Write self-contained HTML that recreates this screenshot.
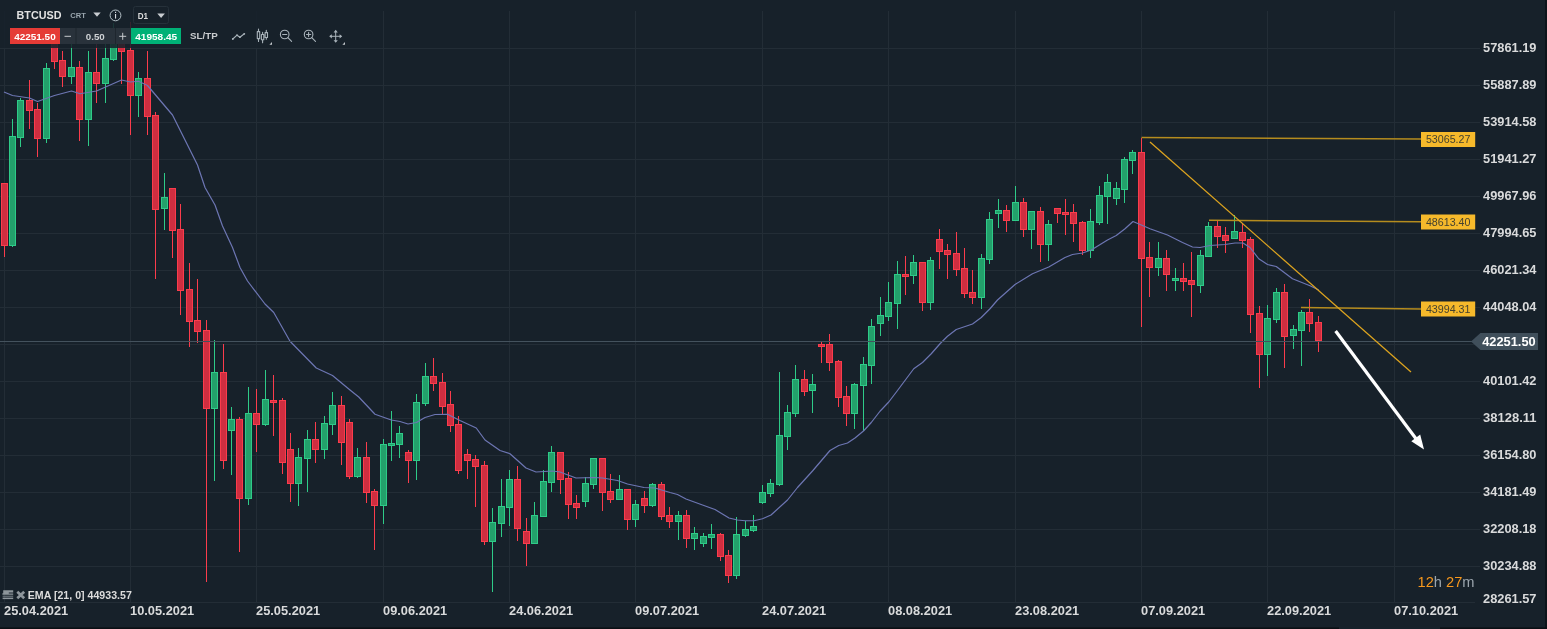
<!DOCTYPE html><html><head><meta charset="utf-8"><title>BTCUSD</title>
<style>html,body{margin:0;padding:0;background:#17212a;overflow:hidden}svg{display:block}text{font-family:"Liberation Sans",Arial,sans-serif}</style></head><body>
<svg width="1547" height="629" viewBox="0 0 1547 629">
<rect width="1547" height="629" fill="#17212a"/>
<g stroke="#232d36" stroke-width="1" shape-rendering="crispEdges">
<line x1="0" y1="48.5" x2="1480" y2="48.5"/>
<line x1="0" y1="85.5" x2="1480" y2="85.5"/>
<line x1="0" y1="122.5" x2="1480" y2="122.5"/>
<line x1="0" y1="159.5" x2="1480" y2="159.5"/>
<line x1="0" y1="196.5" x2="1480" y2="196.5"/>
<line x1="0" y1="233.5" x2="1480" y2="233.5"/>
<line x1="0" y1="270.5" x2="1480" y2="270.5"/>
<line x1="0" y1="307.5" x2="1480" y2="307.5"/>
<line x1="0" y1="344.5" x2="1480" y2="344.5"/>
<line x1="0" y1="381.5" x2="1480" y2="381.5"/>
<line x1="0" y1="418.5" x2="1480" y2="418.5"/>
<line x1="0" y1="455.5" x2="1480" y2="455.5"/>
<line x1="0" y1="492.5" x2="1480" y2="492.5"/>
<line x1="0" y1="529.5" x2="1480" y2="529.5"/>
<line x1="0" y1="566.5" x2="1480" y2="566.5"/>
<line x1="4.5" y1="11" x2="4.5" y2="603"/>
<line x1="130.5" y1="11" x2="130.5" y2="603"/>
<line x1="256.5" y1="11" x2="256.5" y2="603"/>
<line x1="383.5" y1="11" x2="383.5" y2="603"/>
<line x1="509.5" y1="11" x2="509.5" y2="603"/>
<line x1="635.5" y1="11" x2="635.5" y2="603"/>
<line x1="762.5" y1="11" x2="762.5" y2="603"/>
<line x1="888.5" y1="11" x2="888.5" y2="603"/>
<line x1="1015.5" y1="11" x2="1015.5" y2="603"/>
<line x1="1141.5" y1="11" x2="1141.5" y2="603"/>
<line x1="1267.5" y1="11" x2="1267.5" y2="603"/>
<line x1="1394.5" y1="11" x2="1394.5" y2="603"/>
<line x1="0" y1="602.5" x2="1475" y2="602.5"/>
</g>
<g shape-rendering="crispEdges">
<rect x="4.0" y="183.0" width="1" height="74.0" fill="#fb3c4c"/>
<rect x="1.0" y="183.0" width="7" height="63.0" fill="#fb3c4c"/>
<rect x="2.0" y="184.0" width="5" height="61.0" fill="#cf2e40"/>
<rect x="12.0" y="119.0" width="1" height="128.0" fill="#2ecb88"/>
<rect x="9.0" y="136.0" width="7" height="110.0" fill="#2ecb88"/>
<rect x="10.0" y="137.0" width="5" height="108.0" fill="#23a06b"/>
<rect x="20.0" y="98.0" width="1" height="49.0" fill="#2ecb88"/>
<rect x="17.0" y="100.0" width="7" height="38.0" fill="#2ecb88"/>
<rect x="18.0" y="101.0" width="5" height="36.0" fill="#23a06b"/>
<rect x="29.0" y="80.0" width="1" height="49.0" fill="#fb3c4c"/>
<rect x="26.0" y="100.0" width="7" height="11.0" fill="#fb3c4c"/>
<rect x="27.0" y="101.0" width="5" height="9.0" fill="#cf2e40"/>
<rect x="37.0" y="103.0" width="1" height="54.0" fill="#fb3c4c"/>
<rect x="34.0" y="109.0" width="7" height="30.0" fill="#fb3c4c"/>
<rect x="35.0" y="110.0" width="5" height="28.0" fill="#cf2e40"/>
<rect x="46.0" y="63.0" width="1" height="80.0" fill="#2ecb88"/>
<rect x="43.0" y="68.0" width="7" height="71.0" fill="#2ecb88"/>
<rect x="44.0" y="69.0" width="5" height="69.0" fill="#23a06b"/>
<rect x="54.0" y="30.0" width="1" height="39.0" fill="#fb3c4c"/>
<rect x="51.0" y="36.0" width="7" height="26.0" fill="#fb3c4c"/>
<rect x="52.0" y="37.0" width="5" height="24.0" fill="#cf2e40"/>
<rect x="62.0" y="51.0" width="1" height="36.0" fill="#fb3c4c"/>
<rect x="59.0" y="60.0" width="7" height="17.0" fill="#fb3c4c"/>
<rect x="60.0" y="61.0" width="5" height="15.0" fill="#cf2e40"/>
<rect x="71.0" y="40.0" width="1" height="44.0" fill="#2ecb88"/>
<rect x="68.0" y="67.0" width="7" height="10.0" fill="#2ecb88"/>
<rect x="69.0" y="68.0" width="5" height="8.0" fill="#23a06b"/>
<rect x="79.0" y="61.0" width="1" height="80.0" fill="#fb3c4c"/>
<rect x="76.0" y="67.0" width="7" height="53.0" fill="#fb3c4c"/>
<rect x="77.0" y="68.0" width="5" height="51.0" fill="#cf2e40"/>
<rect x="88.0" y="51.0" width="1" height="95.0" fill="#2ecb88"/>
<rect x="85.0" y="72.0" width="7" height="48.0" fill="#2ecb88"/>
<rect x="86.0" y="73.0" width="5" height="46.0" fill="#23a06b"/>
<rect x="96.0" y="40.0" width="1" height="63.0" fill="#fb3c4c"/>
<rect x="93.0" y="72.0" width="7" height="12.0" fill="#fb3c4c"/>
<rect x="94.0" y="73.0" width="5" height="10.0" fill="#cf2e40"/>
<rect x="105.0" y="40.0" width="1" height="63.0" fill="#2ecb88"/>
<rect x="102.0" y="58.0" width="7" height="26.0" fill="#2ecb88"/>
<rect x="103.0" y="59.0" width="5" height="24.0" fill="#23a06b"/>
<rect x="113.0" y="23.0" width="1" height="38.0" fill="#2ecb88"/>
<rect x="110.0" y="38.0" width="7" height="22.0" fill="#2ecb88"/>
<rect x="111.0" y="39.0" width="5" height="20.0" fill="#23a06b"/>
<rect x="121.0" y="30.0" width="1" height="54.0" fill="#fb3c4c"/>
<rect x="118.0" y="38.0" width="7" height="14.0" fill="#fb3c4c"/>
<rect x="119.0" y="39.0" width="5" height="12.0" fill="#cf2e40"/>
<rect x="130.0" y="22.0" width="1" height="113.0" fill="#fb3c4c"/>
<rect x="127.0" y="50.0" width="7" height="46.0" fill="#fb3c4c"/>
<rect x="128.0" y="51.0" width="5" height="44.0" fill="#cf2e40"/>
<rect x="138.0" y="72.0" width="1" height="45.0" fill="#2ecb88"/>
<rect x="135.0" y="78.0" width="7" height="18.0" fill="#2ecb88"/>
<rect x="136.0" y="79.0" width="5" height="16.0" fill="#23a06b"/>
<rect x="147.0" y="51.0" width="1" height="84.0" fill="#fb3c4c"/>
<rect x="144.0" y="78.0" width="7" height="39.0" fill="#fb3c4c"/>
<rect x="145.0" y="79.0" width="5" height="37.0" fill="#cf2e40"/>
<rect x="155.0" y="112.0" width="1" height="167.0" fill="#fb3c4c"/>
<rect x="152.0" y="115.0" width="7" height="95.0" fill="#fb3c4c"/>
<rect x="153.0" y="116.0" width="5" height="93.0" fill="#cf2e40"/>
<rect x="164.0" y="173.0" width="1" height="57.0" fill="#2ecb88"/>
<rect x="161.0" y="197.0" width="7" height="12.0" fill="#2ecb88"/>
<rect x="162.0" y="198.0" width="5" height="10.0" fill="#23a06b"/>
<rect x="172.0" y="188.0" width="1" height="70.0" fill="#fb3c4c"/>
<rect x="169.0" y="188.0" width="7" height="43.0" fill="#fb3c4c"/>
<rect x="170.0" y="189.0" width="5" height="41.0" fill="#cf2e40"/>
<rect x="180.0" y="204.0" width="1" height="111.0" fill="#fb3c4c"/>
<rect x="177.0" y="229.0" width="7" height="62.0" fill="#fb3c4c"/>
<rect x="178.0" y="230.0" width="5" height="60.0" fill="#cf2e40"/>
<rect x="189.0" y="263.0" width="1" height="84.0" fill="#fb3c4c"/>
<rect x="186.0" y="289.0" width="7" height="33.0" fill="#fb3c4c"/>
<rect x="187.0" y="290.0" width="5" height="31.0" fill="#cf2e40"/>
<rect x="197.0" y="279.0" width="1" height="64.0" fill="#fb3c4c"/>
<rect x="194.0" y="320.0" width="7" height="12.0" fill="#fb3c4c"/>
<rect x="195.0" y="321.0" width="5" height="10.0" fill="#cf2e40"/>
<rect x="206.0" y="320.0" width="1" height="262.0" fill="#fb3c4c"/>
<rect x="203.0" y="330.0" width="7" height="79.0" fill="#fb3c4c"/>
<rect x="204.0" y="331.0" width="5" height="77.0" fill="#cf2e40"/>
<rect x="214.0" y="340.0" width="1" height="141.0" fill="#2ecb88"/>
<rect x="211.0" y="372.0" width="7" height="37.0" fill="#2ecb88"/>
<rect x="212.0" y="373.0" width="5" height="35.0" fill="#23a06b"/>
<rect x="223.0" y="344.0" width="1" height="125.0" fill="#fb3c4c"/>
<rect x="220.0" y="372.0" width="7" height="89.0" fill="#fb3c4c"/>
<rect x="221.0" y="373.0" width="5" height="87.0" fill="#cf2e40"/>
<rect x="231.0" y="407.0" width="1" height="68.0" fill="#2ecb88"/>
<rect x="228.0" y="419.0" width="7" height="12.0" fill="#2ecb88"/>
<rect x="229.0" y="420.0" width="5" height="10.0" fill="#23a06b"/>
<rect x="239.0" y="417.0" width="1" height="135.0" fill="#fb3c4c"/>
<rect x="236.0" y="419.0" width="7" height="80.0" fill="#fb3c4c"/>
<rect x="237.0" y="420.0" width="5" height="78.0" fill="#cf2e40"/>
<rect x="248.0" y="387.0" width="1" height="118.0" fill="#2ecb88"/>
<rect x="245.0" y="413.0" width="7" height="86.0" fill="#2ecb88"/>
<rect x="246.0" y="414.0" width="5" height="84.0" fill="#23a06b"/>
<rect x="256.0" y="389.0" width="1" height="63.0" fill="#fb3c4c"/>
<rect x="253.0" y="413.0" width="7" height="12.0" fill="#fb3c4c"/>
<rect x="254.0" y="414.0" width="5" height="10.0" fill="#cf2e40"/>
<rect x="265.0" y="370.0" width="1" height="56.0" fill="#2ecb88"/>
<rect x="262.0" y="399.0" width="7" height="26.0" fill="#2ecb88"/>
<rect x="263.0" y="400.0" width="5" height="24.0" fill="#23a06b"/>
<rect x="273.0" y="375.0" width="1" height="61.0" fill="#fb3c4c"/>
<rect x="270.0" y="400.0" width="7" height="3.0" fill="#fb3c4c"/>
<rect x="271.0" y="401.0" width="5" height="1.0" fill="#cf2e40"/>
<rect x="282.0" y="398.0" width="1" height="76.0" fill="#fb3c4c"/>
<rect x="279.0" y="400.0" width="7" height="63.0" fill="#fb3c4c"/>
<rect x="280.0" y="401.0" width="5" height="61.0" fill="#cf2e40"/>
<rect x="290.0" y="433.0" width="1" height="69.0" fill="#fb3c4c"/>
<rect x="287.0" y="449.0" width="7" height="35.0" fill="#fb3c4c"/>
<rect x="288.0" y="450.0" width="5" height="33.0" fill="#cf2e40"/>
<rect x="298.0" y="448.0" width="1" height="58.0" fill="#2ecb88"/>
<rect x="295.0" y="457.0" width="7" height="27.0" fill="#2ecb88"/>
<rect x="296.0" y="458.0" width="5" height="25.0" fill="#23a06b"/>
<rect x="307.0" y="430.0" width="1" height="62.0" fill="#2ecb88"/>
<rect x="304.0" y="439.0" width="7" height="20.0" fill="#2ecb88"/>
<rect x="305.0" y="440.0" width="5" height="18.0" fill="#23a06b"/>
<rect x="315.0" y="422.0" width="1" height="41.0" fill="#fb3c4c"/>
<rect x="312.0" y="439.0" width="7" height="11.0" fill="#fb3c4c"/>
<rect x="313.0" y="440.0" width="5" height="9.0" fill="#cf2e40"/>
<rect x="324.0" y="416.0" width="1" height="43.0" fill="#2ecb88"/>
<rect x="321.0" y="423.0" width="7" height="27.0" fill="#2ecb88"/>
<rect x="322.0" y="424.0" width="5" height="25.0" fill="#23a06b"/>
<rect x="332.0" y="392.0" width="1" height="43.0" fill="#2ecb88"/>
<rect x="329.0" y="405.0" width="7" height="20.0" fill="#2ecb88"/>
<rect x="330.0" y="406.0" width="5" height="18.0" fill="#23a06b"/>
<rect x="341.0" y="396.0" width="1" height="69.0" fill="#fb3c4c"/>
<rect x="338.0" y="405.0" width="7" height="38.0" fill="#fb3c4c"/>
<rect x="339.0" y="406.0" width="5" height="36.0" fill="#cf2e40"/>
<rect x="349.0" y="419.0" width="1" height="60.0" fill="#fb3c4c"/>
<rect x="346.0" y="422.0" width="7" height="55.0" fill="#fb3c4c"/>
<rect x="347.0" y="423.0" width="5" height="53.0" fill="#cf2e40"/>
<rect x="357.0" y="448.0" width="1" height="30.0" fill="#2ecb88"/>
<rect x="354.0" y="457.0" width="7" height="20.0" fill="#2ecb88"/>
<rect x="355.0" y="458.0" width="5" height="18.0" fill="#23a06b"/>
<rect x="366.0" y="442.0" width="1" height="61.0" fill="#fb3c4c"/>
<rect x="363.0" y="457.0" width="7" height="36.0" fill="#fb3c4c"/>
<rect x="364.0" y="458.0" width="5" height="34.0" fill="#cf2e40"/>
<rect x="374.0" y="489.0" width="1" height="61.0" fill="#fb3c4c"/>
<rect x="371.0" y="491.0" width="7" height="15.0" fill="#fb3c4c"/>
<rect x="372.0" y="492.0" width="5" height="13.0" fill="#cf2e40"/>
<rect x="383.0" y="439.0" width="1" height="85.0" fill="#2ecb88"/>
<rect x="380.0" y="444.0" width="7" height="62.0" fill="#2ecb88"/>
<rect x="381.0" y="445.0" width="5" height="60.0" fill="#23a06b"/>
<rect x="391.0" y="411.0" width="1" height="50.0" fill="#2ecb88"/>
<rect x="388.0" y="443.0" width="7" height="3.0" fill="#2ecb88"/>
<rect x="389.0" y="444.0" width="5" height="1.0" fill="#23a06b"/>
<rect x="399.0" y="426.0" width="1" height="32.0" fill="#2ecb88"/>
<rect x="396.0" y="433.0" width="7" height="12.0" fill="#2ecb88"/>
<rect x="397.0" y="434.0" width="5" height="10.0" fill="#23a06b"/>
<rect x="408.0" y="450.0" width="1" height="33.0" fill="#fb3c4c"/>
<rect x="405.0" y="452.0" width="7" height="9.0" fill="#fb3c4c"/>
<rect x="406.0" y="453.0" width="5" height="7.0" fill="#cf2e40"/>
<rect x="416.0" y="394.0" width="1" height="86.0" fill="#2ecb88"/>
<rect x="413.0" y="402.0" width="7" height="59.0" fill="#2ecb88"/>
<rect x="414.0" y="403.0" width="5" height="57.0" fill="#23a06b"/>
<rect x="425.0" y="363.0" width="1" height="43.0" fill="#2ecb88"/>
<rect x="422.0" y="376.0" width="7" height="28.0" fill="#2ecb88"/>
<rect x="423.0" y="377.0" width="5" height="26.0" fill="#23a06b"/>
<rect x="433.0" y="358.0" width="1" height="33.0" fill="#fb3c4c"/>
<rect x="430.0" y="376.0" width="7" height="8.0" fill="#fb3c4c"/>
<rect x="431.0" y="377.0" width="5" height="6.0" fill="#cf2e40"/>
<rect x="442.0" y="373.0" width="1" height="41.0" fill="#fb3c4c"/>
<rect x="439.0" y="382.0" width="7" height="25.0" fill="#fb3c4c"/>
<rect x="440.0" y="383.0" width="5" height="23.0" fill="#cf2e40"/>
<rect x="450.0" y="391.0" width="1" height="41.0" fill="#fb3c4c"/>
<rect x="447.0" y="404.0" width="7" height="22.0" fill="#fb3c4c"/>
<rect x="448.0" y="405.0" width="5" height="20.0" fill="#cf2e40"/>
<rect x="458.0" y="416.0" width="1" height="58.0" fill="#fb3c4c"/>
<rect x="455.0" y="424.0" width="7" height="47.0" fill="#fb3c4c"/>
<rect x="456.0" y="425.0" width="5" height="45.0" fill="#cf2e40"/>
<rect x="467.0" y="449.0" width="1" height="30.0" fill="#fb3c4c"/>
<rect x="464.0" y="454.0" width="7" height="7.0" fill="#fb3c4c"/>
<rect x="465.0" y="455.0" width="5" height="5.0" fill="#cf2e40"/>
<rect x="475.0" y="455.0" width="1" height="52.0" fill="#fb3c4c"/>
<rect x="472.0" y="459.0" width="7" height="8.0" fill="#fb3c4c"/>
<rect x="473.0" y="460.0" width="5" height="6.0" fill="#cf2e40"/>
<rect x="484.0" y="461.0" width="1" height="84.0" fill="#fb3c4c"/>
<rect x="481.0" y="465.0" width="7" height="77.0" fill="#fb3c4c"/>
<rect x="482.0" y="466.0" width="5" height="75.0" fill="#cf2e40"/>
<rect x="492.0" y="508.0" width="1" height="84.0" fill="#2ecb88"/>
<rect x="489.0" y="522.0" width="7" height="20.0" fill="#2ecb88"/>
<rect x="490.0" y="523.0" width="5" height="18.0" fill="#23a06b"/>
<rect x="501.0" y="479.0" width="1" height="58.0" fill="#2ecb88"/>
<rect x="498.0" y="506.0" width="7" height="18.0" fill="#2ecb88"/>
<rect x="499.0" y="507.0" width="5" height="16.0" fill="#23a06b"/>
<rect x="509.0" y="470.0" width="1" height="56.0" fill="#2ecb88"/>
<rect x="506.0" y="479.0" width="7" height="29.0" fill="#2ecb88"/>
<rect x="507.0" y="480.0" width="5" height="27.0" fill="#23a06b"/>
<rect x="517.0" y="466.0" width="1" height="75.0" fill="#fb3c4c"/>
<rect x="514.0" y="479.0" width="7" height="50.0" fill="#fb3c4c"/>
<rect x="515.0" y="480.0" width="5" height="48.0" fill="#cf2e40"/>
<rect x="526.0" y="518.0" width="1" height="48.0" fill="#fb3c4c"/>
<rect x="523.0" y="531.0" width="7" height="13.0" fill="#fb3c4c"/>
<rect x="524.0" y="532.0" width="5" height="11.0" fill="#cf2e40"/>
<rect x="534.0" y="502.0" width="1" height="42.0" fill="#2ecb88"/>
<rect x="531.0" y="515.0" width="7" height="29.0" fill="#2ecb88"/>
<rect x="532.0" y="516.0" width="5" height="27.0" fill="#23a06b"/>
<rect x="543.0" y="470.0" width="1" height="47.0" fill="#2ecb88"/>
<rect x="540.0" y="481.0" width="7" height="36.0" fill="#2ecb88"/>
<rect x="541.0" y="482.0" width="5" height="34.0" fill="#23a06b"/>
<rect x="551.0" y="446.0" width="1" height="46.0" fill="#2ecb88"/>
<rect x="548.0" y="452.0" width="7" height="31.0" fill="#2ecb88"/>
<rect x="549.0" y="453.0" width="5" height="29.0" fill="#23a06b"/>
<rect x="560.0" y="452.0" width="1" height="42.0" fill="#fb3c4c"/>
<rect x="557.0" y="452.0" width="7" height="28.0" fill="#fb3c4c"/>
<rect x="558.0" y="453.0" width="5" height="26.0" fill="#cf2e40"/>
<rect x="568.0" y="472.0" width="1" height="47.0" fill="#fb3c4c"/>
<rect x="565.0" y="478.0" width="7" height="27.0" fill="#fb3c4c"/>
<rect x="566.0" y="479.0" width="5" height="25.0" fill="#cf2e40"/>
<rect x="576.0" y="495.0" width="1" height="24.0" fill="#fb3c4c"/>
<rect x="573.0" y="503.0" width="7" height="5.0" fill="#fb3c4c"/>
<rect x="574.0" y="504.0" width="5" height="3.0" fill="#cf2e40"/>
<rect x="585.0" y="477.0" width="1" height="30.0" fill="#2ecb88"/>
<rect x="582.0" y="483.0" width="7" height="19.0" fill="#2ecb88"/>
<rect x="583.0" y="484.0" width="5" height="17.0" fill="#23a06b"/>
<rect x="593.0" y="458.0" width="1" height="31.0" fill="#2ecb88"/>
<rect x="590.0" y="458.0" width="7" height="27.0" fill="#2ecb88"/>
<rect x="591.0" y="459.0" width="5" height="25.0" fill="#23a06b"/>
<rect x="602.0" y="458.0" width="1" height="53.0" fill="#fb3c4c"/>
<rect x="599.0" y="458.0" width="7" height="35.0" fill="#fb3c4c"/>
<rect x="600.0" y="459.0" width="5" height="33.0" fill="#cf2e40"/>
<rect x="610.0" y="474.0" width="1" height="29.0" fill="#fb3c4c"/>
<rect x="607.0" y="491.0" width="7" height="9.0" fill="#fb3c4c"/>
<rect x="608.0" y="492.0" width="5" height="7.0" fill="#cf2e40"/>
<rect x="619.0" y="475.0" width="1" height="25.0" fill="#2ecb88"/>
<rect x="616.0" y="489.0" width="7" height="11.0" fill="#2ecb88"/>
<rect x="617.0" y="490.0" width="5" height="9.0" fill="#23a06b"/>
<rect x="627.0" y="489.0" width="1" height="41.0" fill="#fb3c4c"/>
<rect x="624.0" y="489.0" width="7" height="31.0" fill="#fb3c4c"/>
<rect x="625.0" y="490.0" width="5" height="29.0" fill="#cf2e40"/>
<rect x="635.0" y="500.0" width="1" height="27.0" fill="#2ecb88"/>
<rect x="632.0" y="504.0" width="7" height="16.0" fill="#2ecb88"/>
<rect x="633.0" y="505.0" width="5" height="14.0" fill="#23a06b"/>
<rect x="644.0" y="491.0" width="1" height="22.0" fill="#fb3c4c"/>
<rect x="641.0" y="498.0" width="7" height="8.0" fill="#fb3c4c"/>
<rect x="642.0" y="499.0" width="5" height="6.0" fill="#cf2e40"/>
<rect x="652.0" y="483.0" width="1" height="24.0" fill="#2ecb88"/>
<rect x="649.0" y="484.0" width="7" height="22.0" fill="#2ecb88"/>
<rect x="650.0" y="485.0" width="5" height="20.0" fill="#23a06b"/>
<rect x="661.0" y="482.0" width="1" height="38.0" fill="#fb3c4c"/>
<rect x="658.0" y="484.0" width="7" height="33.0" fill="#fb3c4c"/>
<rect x="659.0" y="485.0" width="5" height="31.0" fill="#cf2e40"/>
<rect x="669.0" y="507.0" width="1" height="21.0" fill="#fb3c4c"/>
<rect x="666.0" y="515.0" width="7" height="7.0" fill="#fb3c4c"/>
<rect x="667.0" y="516.0" width="5" height="5.0" fill="#cf2e40"/>
<rect x="678.0" y="511.0" width="1" height="29.0" fill="#2ecb88"/>
<rect x="675.0" y="515.0" width="7" height="7.0" fill="#2ecb88"/>
<rect x="676.0" y="516.0" width="5" height="5.0" fill="#23a06b"/>
<rect x="686.0" y="510.0" width="1" height="38.0" fill="#fb3c4c"/>
<rect x="683.0" y="515.0" width="7" height="24.0" fill="#fb3c4c"/>
<rect x="684.0" y="516.0" width="5" height="22.0" fill="#cf2e40"/>
<rect x="694.0" y="527.0" width="1" height="23.0" fill="#2ecb88"/>
<rect x="691.0" y="533.0" width="7" height="6.0" fill="#2ecb88"/>
<rect x="692.0" y="534.0" width="5" height="4.0" fill="#23a06b"/>
<rect x="703.0" y="533.0" width="1" height="14.0" fill="#2ecb88"/>
<rect x="700.0" y="536.0" width="7" height="8.0" fill="#2ecb88"/>
<rect x="701.0" y="537.0" width="5" height="6.0" fill="#23a06b"/>
<rect x="711.0" y="524.0" width="1" height="25.0" fill="#2ecb88"/>
<rect x="708.0" y="534.0" width="7" height="4.0" fill="#2ecb88"/>
<rect x="709.0" y="535.0" width="5" height="2.0" fill="#23a06b"/>
<rect x="720.0" y="533.0" width="1" height="28.0" fill="#fb3c4c"/>
<rect x="717.0" y="534.0" width="7" height="23.0" fill="#fb3c4c"/>
<rect x="718.0" y="535.0" width="5" height="21.0" fill="#cf2e40"/>
<rect x="728.0" y="550.0" width="1" height="33.0" fill="#fb3c4c"/>
<rect x="725.0" y="555.0" width="7" height="21.0" fill="#fb3c4c"/>
<rect x="726.0" y="556.0" width="5" height="19.0" fill="#cf2e40"/>
<rect x="736.0" y="517.0" width="1" height="62.0" fill="#2ecb88"/>
<rect x="733.0" y="534.0" width="7" height="42.0" fill="#2ecb88"/>
<rect x="734.0" y="535.0" width="5" height="40.0" fill="#23a06b"/>
<rect x="745.0" y="521.0" width="1" height="16.0" fill="#2ecb88"/>
<rect x="742.0" y="529.0" width="7" height="7.0" fill="#2ecb88"/>
<rect x="743.0" y="530.0" width="5" height="5.0" fill="#23a06b"/>
<rect x="753.0" y="515.0" width="1" height="17.0" fill="#2ecb88"/>
<rect x="750.0" y="526.0" width="7" height="5.0" fill="#2ecb88"/>
<rect x="751.0" y="527.0" width="5" height="3.0" fill="#23a06b"/>
<rect x="762.0" y="485.0" width="1" height="19.0" fill="#2ecb88"/>
<rect x="759.0" y="492.0" width="7" height="11.0" fill="#2ecb88"/>
<rect x="760.0" y="493.0" width="5" height="9.0" fill="#23a06b"/>
<rect x="770.0" y="479.0" width="1" height="18.0" fill="#2ecb88"/>
<rect x="767.0" y="483.0" width="7" height="11.0" fill="#2ecb88"/>
<rect x="768.0" y="484.0" width="5" height="9.0" fill="#23a06b"/>
<rect x="779.0" y="372.0" width="1" height="114.0" fill="#2ecb88"/>
<rect x="776.0" y="435.0" width="7" height="50.0" fill="#2ecb88"/>
<rect x="777.0" y="436.0" width="5" height="48.0" fill="#23a06b"/>
<rect x="787.0" y="405.0" width="1" height="45.0" fill="#2ecb88"/>
<rect x="784.0" y="412.0" width="7" height="25.0" fill="#2ecb88"/>
<rect x="785.0" y="413.0" width="5" height="23.0" fill="#23a06b"/>
<rect x="795.0" y="365.0" width="1" height="52.0" fill="#2ecb88"/>
<rect x="792.0" y="379.0" width="7" height="35.0" fill="#2ecb88"/>
<rect x="793.0" y="380.0" width="5" height="33.0" fill="#23a06b"/>
<rect x="804.0" y="370.0" width="1" height="26.0" fill="#fb3c4c"/>
<rect x="801.0" y="379.0" width="7" height="13.0" fill="#fb3c4c"/>
<rect x="802.0" y="380.0" width="5" height="11.0" fill="#cf2e40"/>
<rect x="812.0" y="374.0" width="1" height="39.0" fill="#2ecb88"/>
<rect x="809.0" y="384.0" width="7" height="7.0" fill="#2ecb88"/>
<rect x="810.0" y="385.0" width="5" height="5.0" fill="#23a06b"/>
<rect x="821.0" y="342.0" width="1" height="21.0" fill="#fb3c4c"/>
<rect x="818.0" y="344.0" width="7" height="3.0" fill="#fb3c4c"/>
<rect x="819.0" y="345.0" width="5" height="1.0" fill="#cf2e40"/>
<rect x="829.0" y="334.0" width="1" height="37.0" fill="#fb3c4c"/>
<rect x="826.0" y="344.0" width="7" height="19.0" fill="#fb3c4c"/>
<rect x="827.0" y="345.0" width="5" height="17.0" fill="#cf2e40"/>
<rect x="838.0" y="360.0" width="1" height="47.0" fill="#fb3c4c"/>
<rect x="835.0" y="361.0" width="7" height="37.0" fill="#fb3c4c"/>
<rect x="836.0" y="362.0" width="5" height="35.0" fill="#cf2e40"/>
<rect x="846.0" y="386.0" width="1" height="40.0" fill="#fb3c4c"/>
<rect x="843.0" y="396.0" width="7" height="18.0" fill="#fb3c4c"/>
<rect x="844.0" y="397.0" width="5" height="16.0" fill="#cf2e40"/>
<rect x="854.0" y="383.0" width="1" height="46.0" fill="#2ecb88"/>
<rect x="851.0" y="384.0" width="7" height="30.0" fill="#2ecb88"/>
<rect x="852.0" y="385.0" width="5" height="28.0" fill="#23a06b"/>
<rect x="863.0" y="357.0" width="1" height="74.0" fill="#2ecb88"/>
<rect x="860.0" y="364.0" width="7" height="22.0" fill="#2ecb88"/>
<rect x="861.0" y="365.0" width="5" height="20.0" fill="#23a06b"/>
<rect x="871.0" y="319.0" width="1" height="65.0" fill="#2ecb88"/>
<rect x="868.0" y="326.0" width="7" height="40.0" fill="#2ecb88"/>
<rect x="869.0" y="327.0" width="5" height="38.0" fill="#23a06b"/>
<rect x="880.0" y="297.0" width="1" height="39.0" fill="#2ecb88"/>
<rect x="877.0" y="315.0" width="7" height="9.0" fill="#2ecb88"/>
<rect x="878.0" y="316.0" width="5" height="7.0" fill="#23a06b"/>
<rect x="888.0" y="282.0" width="1" height="39.0" fill="#2ecb88"/>
<rect x="885.0" y="302.0" width="7" height="15.0" fill="#2ecb88"/>
<rect x="886.0" y="303.0" width="5" height="13.0" fill="#23a06b"/>
<rect x="897.0" y="261.0" width="1" height="68.0" fill="#2ecb88"/>
<rect x="894.0" y="274.0" width="7" height="30.0" fill="#2ecb88"/>
<rect x="895.0" y="275.0" width="5" height="28.0" fill="#23a06b"/>
<rect x="905.0" y="256.0" width="1" height="39.0" fill="#fb3c4c"/>
<rect x="902.0" y="274.0" width="7" height="3.0" fill="#fb3c4c"/>
<rect x="903.0" y="275.0" width="5" height="1.0" fill="#cf2e40"/>
<rect x="913.0" y="255.0" width="1" height="29.0" fill="#2ecb88"/>
<rect x="910.0" y="262.0" width="7" height="14.0" fill="#2ecb88"/>
<rect x="911.0" y="263.0" width="5" height="12.0" fill="#23a06b"/>
<rect x="922.0" y="262.0" width="1" height="49.0" fill="#fb3c4c"/>
<rect x="919.0" y="262.0" width="7" height="41.0" fill="#fb3c4c"/>
<rect x="920.0" y="263.0" width="5" height="39.0" fill="#cf2e40"/>
<rect x="930.0" y="257.0" width="1" height="53.0" fill="#2ecb88"/>
<rect x="927.0" y="260.0" width="7" height="43.0" fill="#2ecb88"/>
<rect x="928.0" y="261.0" width="5" height="41.0" fill="#23a06b"/>
<rect x="939.0" y="229.0" width="1" height="40.0" fill="#fb3c4c"/>
<rect x="936.0" y="239.0" width="7" height="13.0" fill="#fb3c4c"/>
<rect x="937.0" y="240.0" width="5" height="11.0" fill="#cf2e40"/>
<rect x="947.0" y="244.0" width="1" height="35.0" fill="#fb3c4c"/>
<rect x="944.0" y="250.0" width="7" height="5.0" fill="#fb3c4c"/>
<rect x="945.0" y="251.0" width="5" height="3.0" fill="#cf2e40"/>
<rect x="956.0" y="232.0" width="1" height="44.0" fill="#fb3c4c"/>
<rect x="953.0" y="253.0" width="7" height="17.0" fill="#fb3c4c"/>
<rect x="954.0" y="254.0" width="5" height="15.0" fill="#cf2e40"/>
<rect x="964.0" y="248.0" width="1" height="50.0" fill="#fb3c4c"/>
<rect x="961.0" y="268.0" width="7" height="26.0" fill="#fb3c4c"/>
<rect x="962.0" y="269.0" width="5" height="24.0" fill="#cf2e40"/>
<rect x="972.0" y="270.0" width="1" height="34.0" fill="#fb3c4c"/>
<rect x="969.0" y="292.0" width="7" height="6.0" fill="#fb3c4c"/>
<rect x="970.0" y="293.0" width="5" height="4.0" fill="#cf2e40"/>
<rect x="981.0" y="254.0" width="1" height="55.0" fill="#2ecb88"/>
<rect x="978.0" y="258.0" width="7" height="40.0" fill="#2ecb88"/>
<rect x="979.0" y="259.0" width="5" height="38.0" fill="#23a06b"/>
<rect x="989.0" y="212.0" width="1" height="52.0" fill="#2ecb88"/>
<rect x="986.0" y="219.0" width="7" height="41.0" fill="#2ecb88"/>
<rect x="987.0" y="220.0" width="5" height="39.0" fill="#23a06b"/>
<rect x="998.0" y="199.0" width="1" height="29.0" fill="#2ecb88"/>
<rect x="995.0" y="210.0" width="7" height="4.0" fill="#2ecb88"/>
<rect x="996.0" y="211.0" width="5" height="2.0" fill="#23a06b"/>
<rect x="1006.0" y="205.0" width="1" height="27.0" fill="#fb3c4c"/>
<rect x="1003.0" y="210.0" width="7" height="11.0" fill="#fb3c4c"/>
<rect x="1004.0" y="211.0" width="5" height="9.0" fill="#cf2e40"/>
<rect x="1015.0" y="186.0" width="1" height="35.0" fill="#2ecb88"/>
<rect x="1012.0" y="202.0" width="7" height="19.0" fill="#2ecb88"/>
<rect x="1013.0" y="203.0" width="5" height="17.0" fill="#23a06b"/>
<rect x="1023.0" y="198.0" width="1" height="39.0" fill="#fb3c4c"/>
<rect x="1020.0" y="202.0" width="7" height="28.0" fill="#fb3c4c"/>
<rect x="1021.0" y="203.0" width="5" height="26.0" fill="#cf2e40"/>
<rect x="1031.0" y="211.0" width="1" height="38.0" fill="#2ecb88"/>
<rect x="1028.0" y="211.0" width="7" height="19.0" fill="#2ecb88"/>
<rect x="1029.0" y="212.0" width="5" height="17.0" fill="#23a06b"/>
<rect x="1040.0" y="207.0" width="1" height="55.0" fill="#fb3c4c"/>
<rect x="1037.0" y="211.0" width="7" height="34.0" fill="#fb3c4c"/>
<rect x="1038.0" y="212.0" width="5" height="32.0" fill="#cf2e40"/>
<rect x="1048.0" y="220.0" width="1" height="41.0" fill="#2ecb88"/>
<rect x="1045.0" y="224.0" width="7" height="21.0" fill="#2ecb88"/>
<rect x="1046.0" y="225.0" width="5" height="19.0" fill="#23a06b"/>
<rect x="1057.0" y="208.0" width="1" height="15.0" fill="#fb3c4c"/>
<rect x="1054.0" y="208.0" width="7" height="6.0" fill="#fb3c4c"/>
<rect x="1055.0" y="209.0" width="5" height="4.0" fill="#cf2e40"/>
<rect x="1065.0" y="199.0" width="1" height="36.0" fill="#fb3c4c"/>
<rect x="1062.0" y="212.0" width="7" height="3.0" fill="#fb3c4c"/>
<rect x="1063.0" y="213.0" width="5" height="1.0" fill="#cf2e40"/>
<rect x="1073.0" y="204.0" width="1" height="38.0" fill="#fb3c4c"/>
<rect x="1070.0" y="212.0" width="7" height="12.0" fill="#fb3c4c"/>
<rect x="1071.0" y="213.0" width="5" height="10.0" fill="#cf2e40"/>
<rect x="1082.0" y="221.0" width="1" height="34.0" fill="#fb3c4c"/>
<rect x="1079.0" y="222.0" width="7" height="29.0" fill="#fb3c4c"/>
<rect x="1080.0" y="223.0" width="5" height="27.0" fill="#cf2e40"/>
<rect x="1090.0" y="209.0" width="1" height="49.0" fill="#2ecb88"/>
<rect x="1087.0" y="221.0" width="7" height="30.0" fill="#2ecb88"/>
<rect x="1088.0" y="222.0" width="5" height="28.0" fill="#23a06b"/>
<rect x="1099.0" y="186.0" width="1" height="39.0" fill="#2ecb88"/>
<rect x="1096.0" y="195.0" width="7" height="28.0" fill="#2ecb88"/>
<rect x="1097.0" y="196.0" width="5" height="26.0" fill="#23a06b"/>
<rect x="1107.0" y="174.0" width="1" height="50.0" fill="#2ecb88"/>
<rect x="1104.0" y="182.0" width="7" height="15.0" fill="#2ecb88"/>
<rect x="1105.0" y="183.0" width="5" height="13.0" fill="#23a06b"/>
<rect x="1116.0" y="182.0" width="1" height="23.0" fill="#2ecb88"/>
<rect x="1113.0" y="188.0" width="7" height="11.0" fill="#2ecb88"/>
<rect x="1114.0" y="189.0" width="5" height="9.0" fill="#23a06b"/>
<rect x="1124.0" y="157.0" width="1" height="46.0" fill="#2ecb88"/>
<rect x="1121.0" y="159.0" width="7" height="31.0" fill="#2ecb88"/>
<rect x="1122.0" y="160.0" width="5" height="29.0" fill="#23a06b"/>
<rect x="1132.0" y="150.0" width="1" height="24.0" fill="#2ecb88"/>
<rect x="1129.0" y="152.0" width="7" height="9.0" fill="#2ecb88"/>
<rect x="1130.0" y="153.0" width="5" height="7.0" fill="#23a06b"/>
<rect x="1141.0" y="138.0" width="1" height="189.0" fill="#fb3c4c"/>
<rect x="1138.0" y="152.0" width="7" height="107.0" fill="#fb3c4c"/>
<rect x="1139.0" y="153.0" width="5" height="105.0" fill="#cf2e40"/>
<rect x="1149.0" y="242.0" width="1" height="55.0" fill="#fb3c4c"/>
<rect x="1146.0" y="257.0" width="7" height="11.0" fill="#fb3c4c"/>
<rect x="1147.0" y="258.0" width="5" height="9.0" fill="#cf2e40"/>
<rect x="1158.0" y="242.0" width="1" height="34.0" fill="#2ecb88"/>
<rect x="1155.0" y="258.0" width="7" height="10.0" fill="#2ecb88"/>
<rect x="1156.0" y="259.0" width="5" height="8.0" fill="#23a06b"/>
<rect x="1166.0" y="250.0" width="1" height="41.0" fill="#fb3c4c"/>
<rect x="1163.0" y="258.0" width="7" height="17.0" fill="#fb3c4c"/>
<rect x="1164.0" y="259.0" width="5" height="15.0" fill="#cf2e40"/>
<rect x="1175.0" y="268.0" width="1" height="23.0" fill="#2ecb88"/>
<rect x="1172.0" y="278.0" width="7" height="3.0" fill="#2ecb88"/>
<rect x="1173.0" y="279.0" width="5" height="1.0" fill="#23a06b"/>
<rect x="1183.0" y="263.0" width="1" height="28.0" fill="#fb3c4c"/>
<rect x="1180.0" y="278.0" width="7" height="4.0" fill="#fb3c4c"/>
<rect x="1181.0" y="279.0" width="5" height="2.0" fill="#cf2e40"/>
<rect x="1191.0" y="252.0" width="1" height="65.0" fill="#fb3c4c"/>
<rect x="1188.0" y="280.0" width="7" height="5.0" fill="#fb3c4c"/>
<rect x="1189.0" y="281.0" width="5" height="3.0" fill="#cf2e40"/>
<rect x="1200.0" y="250.0" width="1" height="43.0" fill="#2ecb88"/>
<rect x="1197.0" y="255.0" width="7" height="31.0" fill="#2ecb88"/>
<rect x="1198.0" y="256.0" width="5" height="29.0" fill="#23a06b"/>
<rect x="1208.0" y="222.0" width="1" height="35.0" fill="#2ecb88"/>
<rect x="1205.0" y="226.0" width="7" height="31.0" fill="#2ecb88"/>
<rect x="1206.0" y="227.0" width="5" height="29.0" fill="#23a06b"/>
<rect x="1217.0" y="221.0" width="1" height="27.0" fill="#fb3c4c"/>
<rect x="1214.0" y="226.0" width="7" height="11.0" fill="#fb3c4c"/>
<rect x="1215.0" y="227.0" width="5" height="9.0" fill="#cf2e40"/>
<rect x="1225.0" y="227.0" width="1" height="26.0" fill="#fb3c4c"/>
<rect x="1222.0" y="235.0" width="7" height="6.0" fill="#fb3c4c"/>
<rect x="1223.0" y="236.0" width="5" height="4.0" fill="#cf2e40"/>
<rect x="1234.0" y="215.0" width="1" height="24.0" fill="#2ecb88"/>
<rect x="1231.0" y="231.0" width="7" height="8.0" fill="#2ecb88"/>
<rect x="1232.0" y="232.0" width="5" height="6.0" fill="#23a06b"/>
<rect x="1242.0" y="223.0" width="1" height="25.0" fill="#fb3c4c"/>
<rect x="1239.0" y="232.0" width="7" height="9.0" fill="#fb3c4c"/>
<rect x="1240.0" y="233.0" width="5" height="7.0" fill="#cf2e40"/>
<rect x="1250.0" y="237.0" width="1" height="96.0" fill="#fb3c4c"/>
<rect x="1247.0" y="239.0" width="7" height="76.0" fill="#fb3c4c"/>
<rect x="1248.0" y="240.0" width="5" height="74.0" fill="#cf2e40"/>
<rect x="1259.0" y="306.0" width="1" height="82.0" fill="#fb3c4c"/>
<rect x="1256.0" y="313.0" width="7" height="42.0" fill="#fb3c4c"/>
<rect x="1257.0" y="314.0" width="5" height="40.0" fill="#cf2e40"/>
<rect x="1267.0" y="305.0" width="1" height="71.0" fill="#2ecb88"/>
<rect x="1264.0" y="318.0" width="7" height="37.0" fill="#2ecb88"/>
<rect x="1265.0" y="319.0" width="5" height="35.0" fill="#23a06b"/>
<rect x="1276.0" y="288.0" width="1" height="35.0" fill="#2ecb88"/>
<rect x="1273.0" y="292.0" width="7" height="28.0" fill="#2ecb88"/>
<rect x="1274.0" y="293.0" width="5" height="26.0" fill="#23a06b"/>
<rect x="1284.0" y="284.0" width="1" height="84.0" fill="#fb3c4c"/>
<rect x="1281.0" y="292.0" width="7" height="45.0" fill="#fb3c4c"/>
<rect x="1282.0" y="293.0" width="5" height="43.0" fill="#cf2e40"/>
<rect x="1293.0" y="325.0" width="1" height="24.0" fill="#2ecb88"/>
<rect x="1290.0" y="329.0" width="7" height="7.0" fill="#2ecb88"/>
<rect x="1291.0" y="330.0" width="5" height="5.0" fill="#23a06b"/>
<rect x="1301.0" y="310.0" width="1" height="56.0" fill="#2ecb88"/>
<rect x="1298.0" y="312.0" width="7" height="19.0" fill="#2ecb88"/>
<rect x="1299.0" y="313.0" width="5" height="17.0" fill="#23a06b"/>
<rect x="1309.0" y="299.0" width="1" height="33.0" fill="#fb3c4c"/>
<rect x="1306.0" y="312.0" width="7" height="12.0" fill="#fb3c4c"/>
<rect x="1307.0" y="313.0" width="5" height="10.0" fill="#cf2e40"/>
<rect x="1318.0" y="316.0" width="1" height="36.0" fill="#fb3c4c"/>
<rect x="1315.0" y="322.0" width="7" height="19.0" fill="#fb3c4c"/>
<rect x="1316.0" y="323.0" width="5" height="17.0" fill="#cf2e40"/>
</g>
<polyline points="4,92 12.5,95.5 29.5,98 37.5,101.5 54.5,95.5 71.5,91 80,93.75 96.5,91 121.5,80 130.5,82 138.5,81.25 147.5,85.5 172.5,115 197.5,165 205,187.5 215,205 222.5,226 232.5,247.5 240,267.5 247.5,281 265,304 273.75,312.5 290,341.25 316.25,368 332.5,375.5 350,390 358.75,397 375,414.25 391.25,420 400,421.5 408,424 416.5,422.5 425,417.5 435,414.5 447.5,414.25 460,420.5 476.25,428 485,440 500,450.5 510,453.75 526,468 536,472 552.5,471 560,472 576,478 594,477.5 602.5,478 617.5,480.5 627.5,484 644,487.5 655,488 670,492.5 677.5,494.5 686,499 702.5,505 715,509.5 729,518 737.5,520 745,520.75 754,520.75 762.5,518.75 771,515 787.5,500 797.5,487.5 812.5,471 830,450.5 838.75,445.5 847.5,443 855,438 863.75,430.75 871.25,422.5 880,411.25 888.75,402 897.5,390.5 913.75,368.75 922.5,362.5 931.25,353.75 940,343.75 947.5,336.25 956.25,329.5 972.5,324 981.25,317.5 990,308.75 997.5,300 1015,284.5 1032.5,273.75 1048.75,267 1065,257.5 1072.5,254.5 1082.5,253 1091.25,250 1107.5,240 1116.25,235.5 1125,228.75 1133,221.5 1142.5,225.5 1150,228.75 1167.5,235 1182.5,242.5 1192.5,247 1200,247.5 1210,245.5 1225,244.5 1235,243 1243,243 1250,247.5 1258.75,258.75 1267.5,264.5 1276.25,266.5 1292.5,278.75 1310,285.75 1318.75,290" fill="none" stroke="#6d76b3" stroke-width="1.2" stroke-linejoin="round"/>
<line x1="0" y1="341.5" x2="1475" y2="341.5" stroke="#44525d" stroke-width="1" shape-rendering="crispEdges"/>
<g stroke-linecap="butt">
<line x1="1141.5" y1="137.6" x2="1421" y2="139" stroke="#b58c1e" stroke-width="1.5"/>
<line x1="1209" y1="220.3" x2="1421" y2="221.8" stroke="#b58c1e" stroke-width="1.5"/>
<line x1="1301" y1="307.5" x2="1421" y2="309" stroke="#b58c1e" stroke-width="1.5"/>
<line x1="1150" y1="142" x2="1411" y2="372" stroke="#dfa51f" stroke-width="1.25"/>
</g>
<rect x="1421" y="132" width="54.2" height="15" fill="#f6b92b"/>
<text x="1448.2" y="143.1" font-size="10" fill="#45422f" textLength="44.5" lengthAdjust="spacingAndGlyphs" text-anchor="middle">53065.27</text>
<rect x="1421" y="214.5" width="54.2" height="15" fill="#f6b92b"/>
<text x="1448.2" y="225.6" font-size="10" fill="#45422f" textLength="44.5" lengthAdjust="spacingAndGlyphs" text-anchor="middle">48613.40</text>
<rect x="1421" y="301.5" width="54.2" height="15" fill="#f6b92b"/>
<text x="1448.2" y="312.6" font-size="10" fill="#45422f" textLength="44.5" lengthAdjust="spacingAndGlyphs" text-anchor="middle">43994.31</text>
<line x1="1335.6" y1="331" x2="1417.5" y2="440.8" stroke="#fff" stroke-width="3.2"/>
<polygon points="1424,449.5 1411.3,441.3 1420.2,434.6" fill="#fff"/>
<rect x="0" y="0" width="350" height="48" fill="#17212a" fill-opacity="0.87"/>
<text x="16.6" y="19.2" font-size="10.9" font-weight="bold" fill="#e2e2e2" textLength="44.9" lengthAdjust="spacingAndGlyphs">BTCUSD</text>
<text x="70.2" y="18.1" font-size="7.9" font-weight="bold" fill="#9aa6ae" textLength="15.6" lengthAdjust="spacingAndGlyphs">CRT</text>
<polygon points="93.3,12.6 100.7,12.6 97,16.8" fill="#c9cdd1"/>
<circle cx="115.5" cy="15.4" r="5.4" fill="none" stroke="#b4c0c6" stroke-width="1"/>
<rect x="115" y="14" width="1.1" height="4.6" fill="#d5dade"/><rect x="115" y="11.8" width="1.1" height="1.2" fill="#d5dade"/>
<rect x="133.5" y="6.5" width="35" height="17" rx="2" fill="#17212a" stroke="#26313a" stroke-width="1"/>
<text x="137.8" y="19" font-size="9.8" font-weight="bold" fill="#dcdcdc" textLength="10.3" lengthAdjust="spacingAndGlyphs">D1</text>
<polygon points="157.3,13.6 164.9,13.6 161.1,17.9" fill="#c9cdd1"/>
<rect x="10" y="28" width="50" height="16" fill="#e53b36"/>
<text x="14.2" y="39.6" font-size="9.3" font-weight="bold" fill="#fff" textLength="41.5" lengthAdjust="spacingAndGlyphs">42251.50</text>
<rect x="60" y="28" width="71" height="16" fill="#29323b"/>
<rect x="75.5" y="28" width="1" height="16" fill="#1e262e"/><rect x="115" y="28" width="1" height="16" fill="#1e262e"/>
<rect x="64.5" y="35.8" width="6.5" height="1" fill="#c6cace"/>
<text x="85.8" y="39.8" font-size="9.3" font-weight="bold" fill="#cfd2d5" textLength="19" lengthAdjust="spacingAndGlyphs">0.50</text>
<rect x="119.2" y="35.8" width="7" height="1" fill="#c6cace"/><rect x="122.2" y="32.8" width="1" height="7" fill="#c6cace"/>
<rect x="131" y="28" width="50" height="16" fill="#00b176"/>
<text x="135.2" y="39.6" font-size="9.3" font-weight="bold" fill="#fff" textLength="42" lengthAdjust="spacingAndGlyphs">41958.45</text>
<text x="190" y="39.2" font-size="9.9" font-weight="bold" fill="#c9cccf" textLength="27.7" lengthAdjust="spacingAndGlyphs">SL/TP</text>
<g fill="none" stroke="#a9b3ba" stroke-width="1.1" stroke-linecap="round" stroke-linejoin="round">
<polyline points="232.8,39 237,35.2 239.9,37.2 244.3,33.8"/>
<circle cx="284.7" cy="34.5" r="4.3"/><line x1="287.9" y1="37.7" x2="291.6" y2="41.4"/><line x1="282.6" y1="34.5" x2="286.8" y2="34.5"/>
<circle cx="308.6" cy="34.5" r="4.3"/><line x1="311.8" y1="37.7" x2="315.5" y2="41.4"/><line x1="306.5" y1="34.5" x2="310.7" y2="34.5"/><line x1="308.6" y1="32.4" x2="308.6" y2="36.6"/>
<path d="M330.5 36.3H340.9M335.7 31.2V41.4" stroke-width="1"/>
<path d="M258.5 29v2.6M258.5 38.6v2.9M257.3 31.6h2.4v7h-2.4zM262.6 32.2v2.3M262.6 39.8v2.9M261.4 34.5h2.4v5.3h-2.4zM266.3 30.2v2.4M266.3 37.5v1.7M265.1 32.6h2.4v4.9h-2.4z"/>
</g>
<path d="M329.2 36.3l2.6-2.1v4.2zM342.2 36.3l-2.6-2.1v4.2zM335.7 29.8l-2.1 2.6h4.2zM335.7 42.8l-2.1-2.6h4.2z" fill="#a9b3ba"/>
<circle cx="232.8" cy="39" r="0.9" fill="#a9b3ba"/><circle cx="237" cy="35.2" r="0.9" fill="#a9b3ba"/><circle cx="239.9" cy="37.2" r="0.9" fill="#a9b3ba"/><circle cx="244.3" cy="33.8" r="0.9" fill="#a9b3ba"/>
<polygon points="272,42 272,44.7 269.4,44.7" fill="#c5cace"/><polygon points="345,42 345,44.7 342.4,44.7" fill="#c5cace"/>
<rect x="1480" y="0" width="67" height="629" fill="#17212a"/>
<g font-size="13.4" font-weight="bold" fill="#d9dadb">
<text x="1483" y="52.2" textLength="53.5" lengthAdjust="spacingAndGlyphs">57861.19</text>
<text x="1483" y="89.2" textLength="53.5" lengthAdjust="spacingAndGlyphs">55887.89</text>
<text x="1483" y="126.2" textLength="53.5" lengthAdjust="spacingAndGlyphs">53914.58</text>
<text x="1483" y="163.2" textLength="53.5" lengthAdjust="spacingAndGlyphs">51941.27</text>
<text x="1483" y="200.2" textLength="53.5" lengthAdjust="spacingAndGlyphs">49967.96</text>
<text x="1483" y="237.2" textLength="53.5" lengthAdjust="spacingAndGlyphs">47994.65</text>
<text x="1483" y="274.2" textLength="53.5" lengthAdjust="spacingAndGlyphs">46021.34</text>
<text x="1483" y="311.2" textLength="53.5" lengthAdjust="spacingAndGlyphs">44048.04</text>
<text x="1483" y="385.2" textLength="53.5" lengthAdjust="spacingAndGlyphs">40101.42</text>
<text x="1483" y="422.2" textLength="53.5" lengthAdjust="spacingAndGlyphs">38128.11</text>
<text x="1483" y="459.2" textLength="53.5" lengthAdjust="spacingAndGlyphs">36154.80</text>
<text x="1483" y="496.2" textLength="53.5" lengthAdjust="spacingAndGlyphs">34181.49</text>
<text x="1483" y="533.2" textLength="53.5" lengthAdjust="spacingAndGlyphs">32208.18</text>
<text x="1483" y="570.2" textLength="53.5" lengthAdjust="spacingAndGlyphs">30234.88</text>
<text x="1483" y="602.6" textLength="53.5" lengthAdjust="spacingAndGlyphs">28261.57</text>
</g>
<polygon points="1471,341.5 1480.5,333 1538,333 1538,350 1480.5,350" fill="#404f5b"/>
<text x="1482.2" y="346" font-size="13.4" font-weight="bold" fill="#fff" textLength="53.5" lengthAdjust="spacingAndGlyphs">42251.50</text>
<g font-size="12.3" font-weight="bold" fill="#d9dadb">
<text x="4.0" y="615.2" textLength="64.2" lengthAdjust="spacingAndGlyphs">25.04.2021</text>
<text x="130.0" y="615.2" textLength="64.2" lengthAdjust="spacingAndGlyphs">10.05.2021</text>
<text x="256.0" y="615.2" textLength="64.2" lengthAdjust="spacingAndGlyphs">25.05.2021</text>
<text x="383.0" y="615.2" textLength="64.2" lengthAdjust="spacingAndGlyphs">09.06.2021</text>
<text x="509.0" y="615.2" textLength="64.2" lengthAdjust="spacingAndGlyphs">24.06.2021</text>
<text x="635.0" y="615.2" textLength="64.2" lengthAdjust="spacingAndGlyphs">09.07.2021</text>
<text x="762.0" y="615.2" textLength="64.2" lengthAdjust="spacingAndGlyphs">24.07.2021</text>
<text x="888.0" y="615.2" textLength="64.2" lengthAdjust="spacingAndGlyphs">08.08.2021</text>
<text x="1015.0" y="615.2" textLength="64.2" lengthAdjust="spacingAndGlyphs">23.08.2021</text>
<text x="1141.0" y="615.2" textLength="64.2" lengthAdjust="spacingAndGlyphs">07.09.2021</text>
<text x="1267.0" y="615.2" textLength="64.2" lengthAdjust="spacingAndGlyphs">22.09.2021</text>
<text x="1394.0" y="615.2" textLength="64.2" lengthAdjust="spacingAndGlyphs">07.10.2021</text>
</g>
<text x="1417.5" y="587" font-size="14" fill="#f7981d" textLength="57" lengthAdjust="spacingAndGlyphs"><tspan>12</tspan><tspan fill="#9ba5ad">h </tspan><tspan>27</tspan><tspan fill="#9ba5ad">m</tspan></text>
<g fill="#8d959b"><path d="M3.2 590.3H13.2V592.6H8.8V593.5H13.2V594.8H2.4V593.2H3.2z"/><rect x="2.6" y="595.7" width="10.6" height="1" fill="#7b848b"/><rect x="2.6" y="597.6" width="10.6" height="1.5"/></g>
<path d="M17.3 591.7l6.9 6.6M24.2 591.7l-6.9 6.6" stroke="#8d959b" stroke-width="2.7" fill="none"/>
<text x="27.8" y="598.8" font-size="10" font-weight="bold" fill="#dcdcdc" textLength="104" lengthAdjust="spacingAndGlyphs">EMA [21, 0] 44933.57</text>
<rect x="1545" y="0" width="2" height="629" fill="#0d141a"/>
<rect x="0" y="627.4" width="1339" height="1.6" fill="#0a0f14"/><rect x="1440" y="627.4" width="107" height="1.6" fill="#0a0f14"/>
</svg></body></html>
